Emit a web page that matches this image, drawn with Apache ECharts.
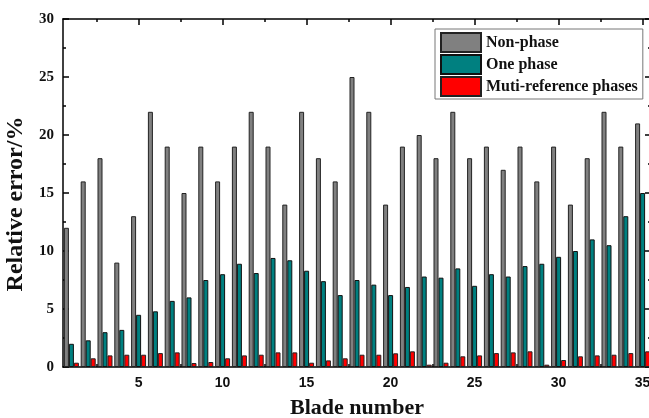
<!DOCTYPE html>
<html>
<head>
<meta charset="utf-8">
<script src="https://cdn.jsdelivr.net/npm/echarts@6/dist/echarts.min.js"></script>
<style>
  html, body { margin: 0; padding: 0; background: #fff; }
  #chart { width: 649px; height: 418px; }
</style>
</head>
<body>
<div id="chart"></div>
<script>
// Blade numbers 1..35
const blades = ['1','2','3','4','5','6','7','8','9','10','11','12','13','14','15','16','17','18','19','20',
  '21','22','23','24','25','26','27','28','29','30','31','32','33','34','35'];
const nonPhase = [12, 16, 18, 9, 13, 22, 19, 15, 19, 16, 19, 22, 19, 14, 22, 18, 16, 25, 22, 14,
  19, 20, 18, 22, 18, 19, 17, 19, 16, 19, 14, 18, 22, 19, 21];
const onePhase = [2.0, 2.3, 3.0, 3.2, 4.5, 4.8, 5.7, 6.0, 7.5, 8.0, 8.9, 8.1, 9.4, 9.2, 8.3, 7.4, 6.2, 7.5, 7.1, 6.2,
  6.9, 7.8, 7.7, 8.5, 7.0, 8.0, 7.8, 8.7, 8.9, 9.5, 10.0, 11.0, 10.5, 13.0, 15.0];
const multiPhase = [0.37, 0.75, 1.0, 1.06, 1.06, 1.2, 1.26, 0.34, 0.43, 0.75, 1.0, 1.06, 1.26, 1.26, 0.37, 0.57, 0.75, 1.06, 1.06, 1.18,
  1.35, 0.2, 0.37, 0.92, 1.0, 1.2, 1.26, 1.35, 0.2, 0.6, 0.92, 1.0, 1.06, 1.2, 1.35];
const majorTicksX = [5, 10, 15, 20, 25, 30, 35];
const minorTicksX = [2.5, 7.5, 12.5, 17.5, 22.5, 27.5, 32.5];

const chart = echarts.init(document.getElementById('chart'));
const serif = '"Liberation Serif", "DejaVu Serif", serif';
const sans = '"Liberation Sans", Arial, sans-serif';

// overlay value axis, used only for tick marks
const tickAxis = (pos, vals, len) => ({
  type: 'value', position: pos, min: 0.5, max: 35.5,
  axisLine: { show: false },
  axisTick: { show: true, inside: true, length: len, customValues: vals, lineStyle: { color: '#000', width: 1.5 } },
  axisLabel: { show: false },
  splitLine: { show: false }
});

const option = {
  backgroundColor: '#fff',
  animation: false,
  grid: { left: 63, right: -2, top: 19, bottom: 51, outerBoundsMode: 'none', containLabel: false },
  legend: {
    orient: 'vertical',
    left: 435, top: 29,
    padding: [3, 5, 2, 5],
    icon: 'rect',
    itemWidth: 40, itemHeight: 19, itemGap: 1,
    backgroundColor: '#fff',
    borderColor: '#777', borderWidth: 1,
    textStyle: { fontFamily: serif, fontWeight: 'bold', fontSize: 16, color: '#111', lineHeight: 19 },
    data: ['Non-phase', 'One phase', 'Muti-reference phases']
  },
  xAxis: [
    {
      type: 'category', data: blades, position: 'bottom',
      name: 'Blade number', nameLocation: 'middle', nameGap: 30,
      nameTextStyle: { fontFamily: serif, fontWeight: 'bold', fontSize: 22, color: '#111' },
      axisLine: { lineStyle: { color: '#000', width: 1.5 } },
      axisTick: { show: false },
      axisLabel: {
        interval: (i) => (i + 1) % 5 === 0,
        fontFamily: sans, fontWeight: 'bold', fontSize: 14, color: '#111', margin: 9
      }
    },
    tickAxis('bottom', majorTicksX, 6),
    tickAxis('bottom', minorTicksX, 3),
    Object.assign(tickAxis('top', majorTicksX, 6), { axisLine: { show: true, lineStyle: { color: '#000', width: 1.5 } } }),
    tickAxis('top', minorTicksX, 3)
  ],
  yAxis: [
    {
      type: 'value', min: 0, max: 30, interval: 5, position: 'left',
      name: 'Relative error/%', nameLocation: 'middle', nameGap: 29,
      nameTextStyle: { fontFamily: serif, fontWeight: 'bold', fontSize: 24, color: '#111', padding: [0, 22, 0, 0] },
      axisLine: { show: true, lineStyle: { color: '#000', width: 1.5 } },
      axisTick: { show: true, inside: true, length: 6, lineStyle: { color: '#000', width: 1.5 } },
      minorTick: { show: true, splitNumber: 2, length: 3, lineStyle: { color: '#000', width: 1.5 } },
      axisLabel: { fontFamily: serif, fontWeight: 'bold', fontSize: 15, color: '#111', margin: 9 },
      splitLine: { show: false }
    },
    {
      type: 'value', min: 0, max: 30, interval: 5, position: 'right',
      axisLine: { show: true, lineStyle: { color: '#000', width: 1.5 } },
      axisTick: { show: true, inside: true, length: 6, lineStyle: { color: '#000', width: 1.5 } },
      minorTick: { show: true, splitNumber: 2, length: 3, lineStyle: { color: '#000', width: 1.5 } },
      axisLabel: { show: false },
      splitLine: { show: false }
    }
  ],
  series: [
    {
      name: 'Non-phase', type: 'bar', data: nonPhase, barWidth: 5, barGap: '0%',
      itemStyle: { color: '#808080', borderColor: '#222', borderWidth: 1 }
    },
    {
      name: 'One phase', type: 'bar', data: onePhase, barWidth: 5, barGap: '0%',
      itemStyle: { color: '#008080', borderColor: '#111', borderWidth: 1 }
    },
    {
      name: 'Muti-reference phases', type: 'bar', data: multiPhase, barWidth: 5, barGap: '0%',
      itemStyle: { color: '#ff0000', borderColor: '#222', borderWidth: 1 }
    }
  ]
};

chart.setOption(option);
</script>
</body>
</html>
